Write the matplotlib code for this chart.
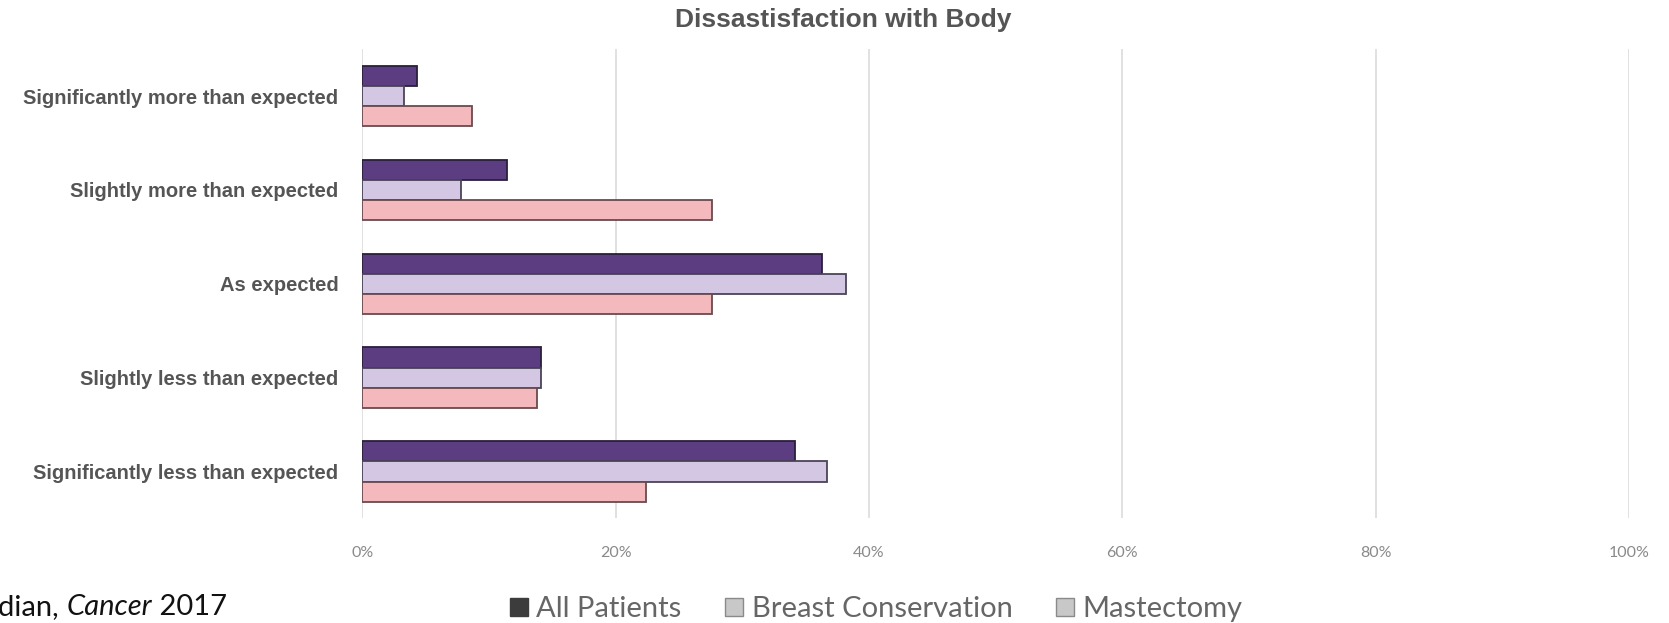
import matplotlib.pyplot as plt
import numpy as np
from matplotlib.patches import Patch

categories = ["Significantly more than expected", "Slightly more than expected",
              "As expected", "Slightly less than expected",
              "Significantly less than expected"]
all_patients = [4.3, 11.4, 36.3, 14.1, 34.2]
breast_conservation = [3.3, 7.8, 38.2, 14.1, 36.7]
mastectomy = [8.7, 27.6, 27.6, 13.8, 22.4]
xticks = [0, 20, 40, 60, 80, 100]

fig = plt.figure(figsize=(16.69, 6.23), dpi=100)
ax = fig.add_axes([0.217, 0.168, 0.759, 0.753])

y = np.arange(len(categories))
h = 0.215
ax.barh(y - h, all_patients, h, color='#5d3d82', edgecolor='#2a1f3a', linewidth=1.3, zorder=3)
ax.barh(y, breast_conservation, h, color='#d3c7e3', edgecolor='#4a4458', linewidth=1.3, zorder=3)
ax.barh(y + h, mastectomy, h, color='#f3b9bd', edgecolor='#6a4a4e', linewidth=1.3, zorder=3)

ax.set_xlim(0, 100)
ax.set_ylim(4.5, -0.5)
ax.set_xticks(xticks)
ax.set_xticklabels([str(t) + "%" for t in xticks], color='#8a8a8a', fontsize=11.5,
                   family='Lato')
ax.set_yticks(y)
ax.set_yticklabels(categories, color='#555555', fontsize=14.5, fontweight='bold',
                   family='Liberation Sans')
ax.tick_params(axis='x', length=0, pad=20)
ax.tick_params(axis='y', length=0, pad=17)
ax.grid(axis='x', color='#dcdcdc', linewidth=1.2, zorder=0)
for s in ax.spines.values():
    s.set_visible(False)

fig.text(0.505, 0.968, "Dissastisfaction with Body", ha='center', va='center',
         color='#555555', fontsize=19, fontweight='bold', family='Liberation Sans')

# legend uses plain grey squares
handles = [Patch(facecolor='#3c3c3c', edgecolor='#3c3c3c'),
           Patch(facecolor='#c8c8c8', edgecolor='#8a8a8a'),
           Patch(facecolor='#c8c8c8', edgecolor='#8a8a8a')]
fig.legend(handles, ["All Patients", "Breast Conservation", "Mastectomy"],
           loc='center', bbox_to_anchor=(0.525, 0.022), ncol=3, frameon=False,
           prop={'family': 'Lato', 'size': 21}, labelcolor='#666666',
           handlelength=0.6, handleheight=0.6, handletextpad=0.3, columnspacing=1.5)

# citation line, partly off the left edge
fy = 0.025
cite = dict(fontsize=21, family='Lato', va='center', ha='left', color='#111111')
t1 = fig.text(-0.001, fy, "dian, ", **cite)
fig.canvas.draw()
r = fig.canvas.get_renderer()
x1 = t1.get_window_extent(r).x1 / fig.bbox.width
t2 = fig.text(x1, fy, "Cancer", style='italic', **cite)
fig.canvas.draw()
x2 = t2.get_window_extent(r).x1 / fig.bbox.width
fig.text(x2, fy, " 2017", **cite)

fig.savefig("out.png", dpi=100)
